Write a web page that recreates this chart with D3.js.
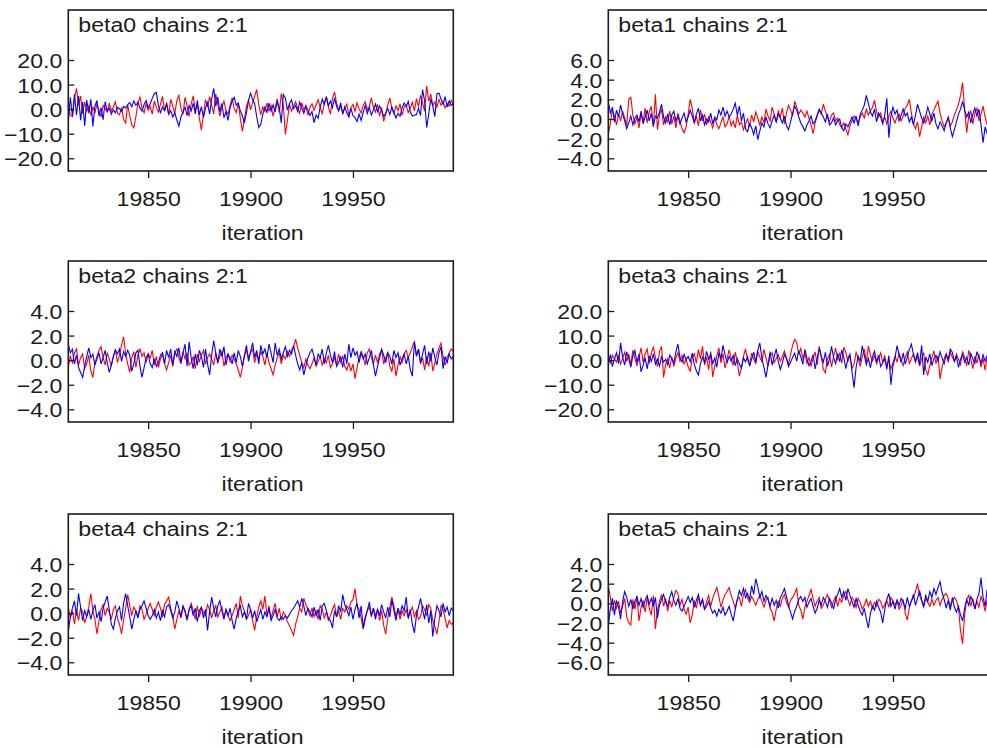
<!DOCTYPE html>
<html>
<head>
<meta charset="utf-8">
<script src="https://cdn.jsdelivr.net/npm/d3@7/dist/d3.min.js"></script>
<style>
  html, body { margin: 0; padding: 0; background: #ffffff; }
  svg { display: block; }
</style>
</head>
<body>
<svg id="chart" width="987" height="748"></svg>
<script>
// Trace plots of the last iterations of two MCMC chains for each coefficient.
const iterStart = 19811;
const xTicks = [19850, 19900, 19950];
const paramNames = ["beta0", "beta1", "beta2", "beta3", "beta4", "beta5"];
const yTicks = [
  [-20, -10, 0, 10, 20],
  [-4, -2, 0, 2, 4, 6],
  [-4, -2, 0, 2, 4],
  [-20, -10, 0, 10, 20],
  [-4, -2, 0, 2, 4],
  [-6, -4, -2, 0, 2, 4]
];

// chain 2 (red)
const beta0Chain2 = [
  0.5,-2.4,-3.1,4.2,8.5,1.6,5.3,-1.8,3.0,-0.9,
  1.2,-2.5,0.8,-1.4,2.1,-0.6,-3.2,1.5,0.2,-1.1,
  2.4,-0.8,0.9,3.0,-1.6,-2.3,0.7,-4.1,-5.6,1.8,
  -2.7,-6.4,-7.6,-3.1,2.6,4.9,0.3,-1.5,2.2,-0.4,
  1.0,-2.0,3.4,0.6,-1.2,1.9,5.2,-0.9,2.8,-2.6,
  4.0,1.1,-1.7,3.5,5.6,0.4,-2.2,4.8,1.3,-3.0,
  2.1,5.4,-0.5,1.8,-3.6,-8.6,-2.4,3.9,0.8,5.1,
  1.5,-1.9,6.2,2.0,-2.8,0.7,3.3,-0.6,-2.1,1.4,
  4.6,0.2,-1.4,2.5,-3.8,-9.1,-4.0,1.2,3.6,-0.3,
  2.7,5.3,8.0,1.9,-2.2,0.9,-1.0,2.4,-0.7,1.6,
  -2.9,0.5,4.2,-1.3,6.3,1.8,-10.3,-4.5,2.0,-0.8,
  1.3,3.0,0.4,-1.7,2.6,-0.2,1.5,-2.4,0.8,2.2,
  -0.5,1.7,3.9,0.6,-1.8,2.3,5.1,0.9,-2.0,4.4,
  7.0,2.5,-0.4,1.2,-1.5,0.3,2.1,-2.6,0.7,1.9,
  -0.9,2.6,0.1,-1.6,1.4,3.0,-0.3,1.1,4.6,0.5,
  -1.2,2.0,-2.8,0.6,-5.0,-2.1,1.8,4.5,0.2,-1.9,
  1.3,-0.6,2.2,-2.5,0.9,1.7,-1.4,0.4,2.8,-0.7,
  4.3,1.0,5.6,2.4,-0.8,9.5,3.2,6.1,1.5,2.9,
  0.8,4.0,1.6,3.1,0.5,2.3,1.2,3.6,1.9
];
const beta0Chain1 = [
  -5.2,4.8,-3.0,6.0,-2.4,5.3,-4.5,2.9,-6.8,3.7,
  -1.6,4.0,-7.0,1.2,3.5,-2.8,0.6,-4.3,3.1,-1.0,
  0.4,-2.1,-0.3,-1.5,0.7,0.2,-0.9,1.1,0.5,1.8,
  2.6,0.9,3.3,1.6,2.8,0.4,-0.8,1.9,3.5,0.6,
  2.2,4.4,6.3,6.8,1.3,-1.4,0.9,-0.5,2.0,-1.8,
  -0.6,-3.2,-1.5,-4.4,-6.9,-3.1,-1.2,0.8,-2.6,1.5,
  -0.7,2.4,-1.9,3.6,-2.3,1.0,-3.4,0.3,2.7,-2.0,
  4.1,8.5,1.2,4.9,-1.1,2.3,-3.5,-1.0,-4.6,0.5,
  3.2,4.8,1.6,2.5,-0.7,-2.8,-5.6,-1.4,3.6,6.5,
  4.0,2.2,-3.1,-7.5,-6.2,-2.0,0.9,-1.3,2.5,-0.8,
  1.7,-1.2,3.1,0.6,-5.6,6.0,4.5,-0.4,2.2,3.8,
  0.2,1.6,-0.9,2.9,0.4,-1.7,1.2,-0.5,-2.6,-1.0,
  -5.5,-2.4,-3.7,0.8,4.1,2.0,5.0,1.4,3.3,0.6,
  4.5,1.2,-0.8,2.6,-2.1,0.9,-1.5,-3.2,0.4,-2.6,
  -3.4,-5.0,-2.0,-4.6,-1.3,1.5,-1.8,0.6,-2.4,-0.3,
  2.1,-1.0,1.3,-0.5,-3.0,-1.6,0.3,-2.2,0.9,-1.4,
  -3.6,-1.7,-2.9,0.6,2.5,1.0,3.1,-1.2,-2.8,-2.5,
  -2.2,0.4,-2.6,8.0,3.3,-7.5,-2.0,4.2,1.1,-3.0,
  6.3,6.5,4.1,2.0,5.1,0.8,3.4,1.5,2.2
];

const beta1Chain2 = [
  -1.6,-0.4,0.9,0.3,-0.6,0.5,-0.2,0.8,0.1,-0.7,
  2.0,2.2,0.4,-0.5,0.2,-0.9,0.6,-0.3,1.1,-0.4,
  0.7,1.3,-0.8,2.5,-1.1,0.4,1.0,-0.6,0.2,-0.3,
  0.8,-0.5,0.3,-0.9,0.6,-0.2,-1.0,-1.4,-0.8,0.5,
  2.0,1.1,-0.4,0.3,-0.7,0.9,-0.2,0.5,-0.6,0.2,
  -0.3,-0.9,0.1,-0.6,-1.0,-0.4,0.2,-0.8,-0.5,0.3,
  -0.7,-0.2,-0.9,0.4,-0.6,-0.3,-1.1,-0.5,0.0,-0.8,
  0.4,-0.3,0.7,0.1,-0.6,0.2,-0.4,1.0,0.3,-0.2,
  1.2,0.5,-0.3,0.8,0.2,1.1,-0.5,0.6,1.4,0.9,
  0.3,1.8,1.2,0.5,0.9,0.6,0.2,0.8,0.1,-0.6,
  -1.5,-0.4,0.3,0.9,0.5,1.5,0.8,0.2,-0.3,0.4,
  0.6,-0.2,0.1,-0.6,-0.9,-0.4,-1.0,-1.6,-0.7,-0.2,
  0.3,0.0,-0.4,0.2,0.6,0.1,1.0,0.4,0.8,1.2,
  1.9,0.7,0.2,0.6,-0.3,0.2,-0.5,0.3,0.8,0.1,
  -0.4,0.2,0.5,-0.2,0.3,1.1,1.4,2.0,0.6,-0.5,
  -1.0,-0.3,-1.8,-0.8,0.2,-0.4,0.3,-0.6,0.5,0.9,
  1.4,1.8,0.6,-0.2,-0.8,-0.4,0.1,-0.7,-0.3,0.4,
  0.9,1.5,2.4,3.7,1.0,-1.4,0.3,0.8,-0.5,0.6,
  1.1,-0.2,0.5,1.3,0.2,-0.6,0.7,1.3,0.4
];
const beta1Chain1 = [
  1.8,0.6,1.2,-0.3,0.9,0.2,1.4,0.5,-0.2,-1.0,
  -0.4,0.3,-0.6,0.1,0.4,-0.3,0.8,-0.5,0.2,0.9,
  -0.2,0.6,-0.7,0.3,0.1,0.7,1.5,0.2,-0.4,0.5,
  -0.6,0.4,0.8,-0.2,0.3,-0.5,0.1,0.6,-0.3,0.2,
  0.9,0.3,-0.4,0.5,1.1,-0.2,0.4,-0.6,0.0,-0.3,
  0.6,-0.5,0.2,-0.1,0.9,0.4,1.2,0.3,0.8,0.2,
  0.5,1.0,1.6,0.4,1.3,-0.2,0.6,-1.0,-1.3,-0.5,
  -0.9,-1.6,-0.7,-2.1,-1.2,-0.4,-0.8,0.2,-0.5,-0.9,
  -0.2,0.4,-0.3,0.5,0.1,-0.4,0.3,-0.7,-1.1,-0.3,
  0.6,1.3,0.9,0.2,-0.4,-0.8,-1.2,-0.6,-0.2,0.3,
  -0.5,-0.2,0.4,1.0,0.6,0.2,-0.3,0.5,-0.6,-0.4,
  0.1,-0.6,-0.2,0.0,-0.9,-1.2,-0.5,-0.8,-0.3,0.2,
  -0.4,0.3,-0.7,0.5,0.9,1.4,2.4,1.6,0.7,0.3,
  1.0,-0.3,0.6,0.2,-0.5,0.4,2.1,-1.9,0.3,1.2,
  0.5,0.9,-0.2,0.4,1.0,0.3,0.6,-0.3,0.2,-0.6,
  0.4,1.5,0.8,0.1,-0.4,0.3,1.2,0.5,-0.2,0.6,
  -0.5,-1.0,-0.3,-0.7,-1.2,-0.4,0.2,-0.9,-1.8,-1.1,
  -0.3,0.5,1.0,1.8,0.9,0.2,0.7,-0.4,0.5,1.1,
  0.3,1.0,-0.6,-2.4,-0.8,-1.5,0.4,-0.3,0.6
];

const beta2Chain2 = [
  -0.5,0.3,-0.2,0.6,0.9,-0.4,0.2,0.5,-0.7,-0.3,
  0.4,-0.9,-1.4,-0.2,0.3,0.8,1.1,0.2,-0.4,0.6,
  0.1,-0.5,0.3,0.9,-0.2,0.4,1.2,1.9,0.5,-0.3,
  -1.0,0.2,0.7,-0.6,0.4,0.9,0.3,0.6,-0.2,0.5,
  0.2,0.8,-0.4,0.3,-0.6,0.1,0.5,-0.3,-0.8,-0.2,
  0.4,-0.5,0.6,0.9,0.2,-0.3,0.7,0.1,0.6,-0.4,
  -0.2,0.3,-0.7,0.5,-0.1,0.4,0.8,-0.3,0.2,0.5,
  0.1,-0.4,0.6,-0.2,0.3,0.7,-0.5,0.2,0.5,-0.1,
  0.4,0.1,-0.3,-0.8,-1.4,-0.6,0.3,0.8,0.2,0.6,
  0.9,-0.2,0.5,0.1,0.7,0.3,-0.4,0.6,-0.2,-0.7,
  -1.2,-0.4,0.2,0.6,-0.3,0.4,0.1,0.7,0.3,0.8,
  1.1,1.7,1.0,0.4,-0.2,-0.6,0.1,-0.4,-0.7,-0.3,
  0.2,-0.5,-0.1,0.3,-0.4,0.1,-0.2,0.4,-0.6,-0.3,
  0.2,-0.4,0.5,-0.2,0.3,-0.5,-0.8,-0.2,-0.9,-0.3,
  -1.5,-0.6,0.2,0.7,0.3,-0.4,0.6,0.9,0.2,-0.3,
  0.4,-0.2,0.5,0.8,-0.3,0.2,0.6,-0.5,-0.9,0.1,
  -1.3,-0.4,0.3,-0.2,0.5,0.8,0.2,0.6,1.1,1.5,
  0.4,0.9,-0.3,0.2,-0.8,0.3,-0.5,0.6,-0.9,-0.2,
  0.5,1.0,1.4,0.3,-0.4,0.2,0.6,0.9,0.7
];
const beta2Chain1 = [
  1.3,0.6,0.9,-0.3,0.4,-0.6,-1.0,-1.4,-0.5,0.3,
  1.0,0.2,0.5,-0.4,0.1,0.6,-0.3,0.2,0.8,-0.2,
  -1.0,-0.4,0.3,0.8,0.5,0.9,-0.1,0.7,0.3,0.8,
  0.4,-0.9,-0.3,0.6,0.8,-0.5,-1.4,-0.6,0.2,0.5,
  -0.3,-0.6,0.1,-0.5,-0.2,0.4,0.6,-0.3,0.8,0.2,
  0.9,-0.4,0.7,0.3,1.0,-0.2,0.6,1.3,-0.5,1.5,
  0.2,-0.7,0.5,-0.4,0.8,0.3,-0.6,0.9,-0.3,-1.2,
  0.4,1.6,0.6,-0.2,0.9,0.3,1.1,-0.4,0.5,0.2,
  -0.3,0.6,-0.2,0.8,0.3,-0.5,0.4,1.2,-0.1,0.7,
  1.4,0.2,0.8,-0.3,1.2,0.5,0.9,0.2,1.3,0.6,
  -0.2,1.4,0.4,0.9,0.1,0.6,1.1,0.3,0.8,0.5,
  1.2,0.4,-0.3,-0.8,-0.2,-1.2,-0.5,0.2,0.6,0.9,
  0.3,-0.4,0.5,0.2,0.9,-0.3,0.6,1.2,0.4,-0.2,
  0.7,-0.5,-0.2,0.3,-0.6,0.5,-0.3,1.3,0.2,1.0,
  0.4,0.7,-0.2,0.6,0.1,0.5,-0.3,0.2,0.8,-0.4,
  -1.3,-0.5,0.2,0.9,0.4,-0.2,0.6,0.3,-0.3,0.8,
  0.2,0.6,-0.4,0.1,0.5,-0.3,0.3,-0.8,-1.3,1.5,
  0.3,0.9,-0.2,0.5,1.2,-0.3,0.7,-0.1,1.0,0.2,
  -0.4,0.6,1.1,-0.7,0.3,-0.2,0.5,0.1,0.3
];

const beta3Chain2 = [
  1.5,-1.2,2.0,0.5,-0.8,1.8,-1.6,0.9,3.2,-0.5,
  2.4,-1.8,4.1,0.7,-2.3,1.2,5.0,-0.9,2.6,4.5,
  -1.4,2.9,5.3,1.0,-2.6,3.6,5.6,-7.0,-1.8,0.6,
  -3.2,1.4,-2.5,0.8,3.1,-0.4,1.9,-1.5,0.3,-2.8,
  -4.5,0.9,2.6,-1.2,4.3,0.5,5.6,-2.0,1.3,-3.9,
  3.5,-6.8,-2.4,1.8,5.0,-1.1,2.7,-3.3,0.6,4.2,
  1.0,-2.1,3.3,-0.8,-6.5,-3.0,1.5,4.6,0.2,-1.7,
  2.9,0.4,-1.3,3.8,1.2,-0.6,4.4,0.8,-2.5,1.6,
  3.0,-1.0,0.7,2.2,-0.4,1.5,3.7,0.9,-1.8,2.4,
  6.0,8.5,7.2,2.3,4.8,0.6,2.9,-1.4,1.1,-2.6,
  0.8,3.4,-1.9,5.6,1.5,-3.7,-5.2,0.4,2.3,-2.8,
  1.6,4.9,0.3,2.7,-1.2,5.3,3.1,-0.5,2.0,-3.4,
  -1.6,3.2,0.9,-2.5,1.4,4.6,-0.8,5.7,2.1,-0.3,
  1.8,-1.5,0.6,3.0,-0.9,1.9,-2.7,0.4,-3.6,-1.0,
  1.5,-0.6,2.8,0.2,-2.2,1.1,3.4,-1.4,0.7,2.5,
  -0.8,1.6,-2.4,0.5,3.1,-3.9,-6.0,-2.2,1.0,3.8,
  -1.5,1.9,-7.6,-2.8,0.6,2.7,-0.9,3.3,1.2,-0.4,
  2.5,0.3,-1.8,3.6,1.0,-2.3,4.0,0.5,-3.5,1.7,
  -1.2,2.6,-2.9,0.8,-4.1,1.4,-1.6,-3.8,-4.3
];
const beta3Chain1 = [
  -1.8,2.3,-2.6,0.5,3.0,-1.4,7.0,1.2,-2.0,3.4,
  0.6,-2.9,1.7,3.9,-1.0,2.4,-4.8,-2.1,0.9,-3.6,
  1.8,-0.5,2.6,-1.6,0.4,-2.4,1.3,-0.8,0.3,-1.9,
  2.1,0.6,-1.2,3.4,6.5,1.0,-0.7,2.3,0.2,1.5,
  -0.6,2.9,-1.8,-4.3,-6.0,-1.5,1.2,-0.9,3.6,0.4,
  2.4,-1.3,0.8,-2.9,3.1,0.5,6.0,2.2,-1.0,1.6,
  -0.4,1.9,-2.2,0.6,-1.6,-3.2,0.9,-0.7,1.4,-2.5,
  0.5,3.3,-0.8,4.1,7.0,0.6,-2.9,-7.0,-1.8,3.5,
  -2.0,1.3,4.6,-0.6,-3.8,-1.1,2.3,0.7,-2.6,-0.9,
  1.2,2.8,-0.4,3.9,1.3,-1.7,4.4,0.6,-2.3,-0.5,
  2.2,-3.6,0.9,4.7,1.5,-0.8,3.2,-2.4,0.3,5.6,
  1.1,-1.4,2.8,-0.6,4.2,1.0,-3.5,0.7,2.4,-4.6,
  -11.2,-3.0,1.6,-0.4,5.8,2.0,-1.9,0.8,-3.1,1.4,
  3.6,-0.7,2.0,-2.6,-1.1,0.5,-3.8,1.9,-10.0,-2.4,
  0.8,5.9,2.1,-0.9,3.0,-1.6,1.2,4.3,6.5,2.4,
  -0.5,3.1,-1.8,6.0,-6.0,1.3,-0.8,2.6,-2.2,0.7,
  1.9,-0.3,3.4,0.8,-1.5,2.2,0.4,4.5,3.2,-0.6,
  1.6,-2.9,0.5,2.3,-0.8,1.1,-1.9,2.7,0.6,-1.2,
  3.5,1.0,-1.4,2.2,-0.4,1.8,0.3,-1.0,-0.6
];

const beta4Chain2 = [
  0.5,-0.4,0.2,-0.9,0.3,-0.6,0.4,0.1,-0.8,-0.2,
  0.5,1.6,0.2,-0.5,-1.7,-0.6,0.3,0.7,-0.2,0.4,
  0.1,-0.5,0.3,0.6,-0.4,-0.9,-1.7,-0.6,0.4,1.5,
  0.6,-0.2,0.5,0.2,-0.3,0.6,0.3,-0.5,-0.1,0.4,
  0.8,0.3,-0.2,0.5,0.9,0.4,-0.3,0.7,1.0,1.3,
  0.4,-0.2,-1.3,-0.5,0.2,-0.4,0.5,0.1,-0.6,0.3,
  0.8,0.2,-0.5,0.6,-0.3,0.4,0.1,-0.2,0.7,0.3,
  -0.4,0.2,0.6,-0.3,0.1,0.5,-0.4,0.3,-0.2,-0.6,
  -0.2,0.3,0.8,-0.4,1.4,0.6,0.2,-0.5,-0.2,0.3,
  -0.6,-1.4,-0.3,0.5,1.0,0.3,1.4,-0.2,0.6,-0.4,
  0.2,0.8,-0.3,0.4,-0.6,0.1,-0.2,-0.7,-1.0,-1.4,
  -1.8,-0.9,-0.3,0.4,0.1,1.2,0.7,0.3,-0.2,0.4,
  -0.3,0.2,-0.5,0.6,0.3,-0.4,0.1,-0.6,-0.2,0.3,
  0.7,-0.3,0.2,-0.5,0.4,0.1,0.6,0.3,0.9,1.1,
  2.0,0.6,0.3,-0.4,-1.3,-0.5,0.2,0.5,-0.3,0.4,
  -0.2,0.3,-0.6,0.2,-1.0,-1.7,-0.4,0.5,1.3,0.6,
  -0.3,0.4,-0.5,0.2,-0.2,0.3,-0.4,0.1,0.5,-0.3,
  0.2,-0.5,-0.3,0.6,0.3,-0.2,0.7,0.4,-0.6,-1.1,
  -1.7,-0.7,0.6,0.3,-0.4,-1.2,-0.6,-0.9,-0.8
];
const beta4Chain1 = [
  -1.5,-0.3,0.4,1.0,-0.2,1.6,0.5,-0.6,0.2,-0.3,
  0.3,-0.5,0.2,0.7,-0.4,0.1,-0.7,0.4,0.9,1.4,
  0.3,-0.9,-1.3,-0.4,0.2,0.5,-0.6,0.8,1.6,0.6,
  -0.3,-1.3,-0.5,0.2,-0.4,0.3,0.6,1.0,0.4,-0.2,
  -0.5,-0.2,0.3,-0.4,0.1,-0.6,0.2,-0.3,0.5,0.7,
  0.2,-0.4,0.1,1.0,0.4,-0.3,0.6,0.2,-0.5,0.3,
  0.6,-0.2,0.4,-0.7,0.2,0.5,-0.4,0.3,-1.4,0.1,
  1.3,0.4,-0.3,0.6,1.0,0.2,-0.5,0.3,-0.2,0.4,
  -0.6,-1.3,-0.4,0.2,0.6,-0.3,0.1,-0.5,0.8,0.3,
  -0.4,0.2,-0.7,-0.2,0.3,-0.5,0.1,-0.3,0.4,-0.6,
  -0.2,0.3,-0.4,-0.6,-0.3,-0.5,-0.2,-0.4,-0.1,0.2,
  0.4,0.7,1.0,0.5,1.2,0.6,-0.2,0.4,0.1,-0.3,
  0.5,-0.2,0.3,-0.6,0.6,0.8,0.2,-0.4,-0.6,-1.2,
  0.2,-0.3,0.6,0.1,1.5,0.7,0.3,-0.2,0.5,-0.5,
  0.3,0.8,-0.4,0.6,-1.2,-0.3,0.2,0.9,-0.2,0.4,
  -0.5,0.3,-0.2,0.7,0.1,-0.4,0.5,-0.3,1.1,0.2,
  -0.6,0.4,-0.1,0.6,0.2,1.3,-0.4,0.3,-0.9,-1.6,
  -0.2,0.5,1.2,0.3,-0.5,0.7,-0.8,0.2,-1.9,-0.4,
  0.6,0.2,-0.3,0.8,0.1,0.5,-0.2,0.4,0.2
];

const beta5Chain2 = [
  1.8,0.6,-0.8,0.3,-0.5,0.2,-1.0,-0.3,0.5,-1.4,
  -2.0,-2.2,0.4,-0.6,0.7,-1.8,-0.4,0.3,-0.9,0.6,
  -0.5,-1.2,0.8,-2.6,-0.7,0.2,0.9,-0.3,0.5,-0.8,
  0.3,-0.4,0.6,1.3,1.0,-0.2,0.4,-0.6,-1.1,-0.4,
  -2.0,-1.2,0.3,-0.5,0.6,-0.2,0.4,-0.7,0.2,0.8,
  -0.3,0.5,1.1,1.6,0.7,-0.4,0.3,0.9,1.2,1.6,
  0.8,0.2,-0.5,0.4,0.6,-0.3,0.9,1.4,0.5,0.1,
  0.7,0.3,-0.2,0.4,0.8,0.2,-0.4,0.3,0.6,-0.5,
  -0.9,-1.8,-0.6,0.2,-0.3,0.5,0.9,0.1,-0.4,0.3,
  0.6,1.0,1.5,-0.2,-0.7,-1.6,-0.4,0.2,0.8,1.4,
  0.5,-0.3,0.2,0.6,-0.5,-0.2,0.4,0.9,0.3,-0.4,
  0.2,0.7,-0.3,0.5,0.1,0.8,1.2,0.4,-0.2,0.6,
  0.3,-0.4,0.5,0.1,-0.6,-0.2,0.4,-0.3,0.2,-0.5,
  0.1,-0.3,0.4,0.2,-0.5,-0.1,0.3,-0.4,0.6,0.2,
  -0.2,0.3,-0.6,-0.2,0.4,-1.0,-1.7,-0.5,0.3,0.6,
  1.2,2.0,0.8,0.2,-0.4,0.5,0.1,-0.3,0.4,-0.2,
  0.3,0.6,-0.2,0.4,0.8,1.0,0.5,-0.3,0.2,0.6,
  0.3,-0.5,-2.8,-4.1,-1.2,0.4,0.8,-0.3,0.5,-0.6,
  0.2,-0.4,0.7,0.1,-0.8,0.3,-0.2,0.5,-0.5
];
const beta5Chain1 = [
  -2.3,-0.6,0.5,-1.2,0.3,-0.4,-1.6,0.2,1.2,0.6,
  -0.3,0.4,-0.6,0.2,0.7,-0.2,0.5,-0.4,0.3,0.8,
  -0.1,0.5,-0.3,0.6,-1.5,-0.2,0.4,0.9,0.1,-0.3,
  0.6,1.2,0.3,-0.2,0.5,-0.5,-0.8,-0.3,0.2,0.7,
  0.1,0.6,-0.4,0.3,0.9,-0.2,0.4,-0.6,-0.3,0.2,
  -0.5,-1.0,-0.7,-1.3,-0.6,-1.0,-0.4,-1.2,-0.8,-0.3,
  -1.1,-1.8,-0.6,0.4,1.3,0.8,1.5,0.6,1.0,0.3,
  1.8,0.9,2.5,1.7,0.6,1.2,0.2,0.8,0.4,-0.3,
  0.5,-0.2,0.3,-0.5,0.6,1.0,1.5,0.7,-0.2,-0.9,
  -1.6,-0.8,-0.3,0.4,0.7,0.2,0.6,-0.4,0.1,0.5,
  -0.3,-1.0,-0.5,0.3,-0.2,0.6,0.2,-0.4,0.5,0.1,
  -0.6,0.4,0.9,1.5,0.6,1.2,0.3,1.5,0.8,0.2,
  -0.4,0.5,-0.2,-0.8,-1.2,-0.5,-1.6,-2.5,-1.0,-0.3,
  -0.7,0.2,-0.4,-0.9,-2.0,-0.6,0.4,1.0,-0.3,0.2,
  -0.6,0.3,-0.2,0.5,0.1,-0.5,0.6,-0.3,0.2,0.9,
  -0.2,0.5,1.3,0.4,-0.3,0.8,0.2,1.2,0.6,1.5,
  0.9,1.6,2.2,1.1,0.4,-0.5,0.3,-0.7,0.6,-0.4,
  -0.9,-0.3,-1.2,-1.8,-0.5,0.4,-0.2,0.7,0.2,-0.6,
  0.4,1.0,2.6,0.6,-0.3,1.4,0.2,0.9,0.5
];

const chain2Values = [beta0Chain2, beta1Chain2, beta2Chain2, beta3Chain2, beta4Chain2, beta5Chain2];
const chain1Values = [beta0Chain1, beta1Chain1, beta2Chain1, beta3Chain1, beta4Chain1, beta5Chain1];
const chainColors = ["#ff0000", "#0000ff"]; // chain 2, chain 1

// ---- layout ----
const svg = d3.select("#chart");
const panelW = 385, panelH = 161;
const colLeft = [68.3, 608.3];
const rowTop = [10, 261, 514];
const textFont = "'Liberation Sans', Arial, sans-serif";
const textSize = 21;
const stretch = 1.1;   // horizontally widened lettering
const inkColor = "#1c1c1c";

// Tick positions: highest label 50px below the frame top, lowest 148px below.
function yDomainFor(ticks) {
  const lo = d3.min(ticks), hi = d3.max(ticks);
  const per = (hi - lo) / 98.3;
  return [lo - per * (panelH - 148.3), hi + per * 50];
}

function widenText(sel) {
  sel.each(function () {
    const t = d3.select(this);
    const x = +t.attr("x") || 0;
    t.attr("x", x / stretch)
      .attr("transform", `scale(${stretch},1)`)
      .attr("font-family", textFont)
      .attr("font-size", textSize)
      .attr("fill", inkColor);
  });
}

paramNames.forEach((name, p) => {
  const col = p % 2, row = Math.floor(p / 2);
  const x0 = colLeft[col], y0 = rowTop[row];
  const g = svg.append("g").attr("transform", `translate(${x0},${y0})`);

  const n = chain1Values[p].length;
  const iters = d3.range(n).map(i => iterStart + i);
  const x = d3.scaleLinear().domain([iterStart, iterStart + n - 1]).range([0, panelW]);
  const y = d3.scaleLinear().domain(yDomainFor(yTicks[p])).range([panelH, 0]);

  const clipId = `clip-${name}`;
  g.append("clipPath").attr("id", clipId)
    .append("rect").attr("width", panelW).attr("height", panelH);

  const line = d3.line()
    .x((d, i) => x(iters[i]))
    .y(d => y(d));

  const plot = g.append("g").attr("clip-path", `url(#${clipId})`);
  [chain2Values[p], chain1Values[p]].forEach((vals, c) => {
    plot.append("path")
      .datum(vals)
      .attr("fill", "none")
      .attr("stroke", chainColors[c])
      .attr("stroke-width", 1.1)
      .attr("stroke-linejoin", "miter")
      .attr("d", line);
  });

  // y axis: ticks point into the frame
  const yAxis = g.append("g")
    .call(d3.axisLeft(y).tickValues(yTicks[p]).tickFormat(d3.format(".1f"))
      .tickSizeInner(-6).tickSizeOuter(0).tickPadding(6));
  yAxis.select(".domain").remove();
  yAxis.selectAll(".tick line").attr("stroke", inkColor).attr("stroke-width", 1.3);
  yAxis.selectAll(".tick text").attr("dy", "0.36em").call(widenText);

  // x axis: ticks below the frame
  const xAxis = g.append("g").attr("transform", `translate(0,${panelH})`)
    .call(d3.axisBottom(x).tickValues(xTicks).tickFormat(d3.format("d"))
      .tickSizeInner(7).tickSizeOuter(0).tickPadding(13));
  xAxis.select(".domain").remove();
  xAxis.selectAll(".tick line").attr("stroke", inkColor).attr("stroke-width", 1.3);
  xAxis.selectAll(".tick text").call(widenText);

  // frame
  g.append("rect")
    .attr("width", panelW).attr("height", panelH)
    .attr("fill", "none").attr("stroke", inkColor).attr("stroke-width", 1.6);

  // panel title
  g.append("text").attr("x", 10).attr("y", 22)
    .text(`${name} chains 2:1`).call(widenText);

  // axis title
  g.append("text")
    .attr("x", panelW / 2 - 68.3 / 2 + 36).attr("y", panelH + 69)
    .attr("text-anchor", "middle")
    .text("iteration").call(widenText);
});
</script>
</body>
</html>
